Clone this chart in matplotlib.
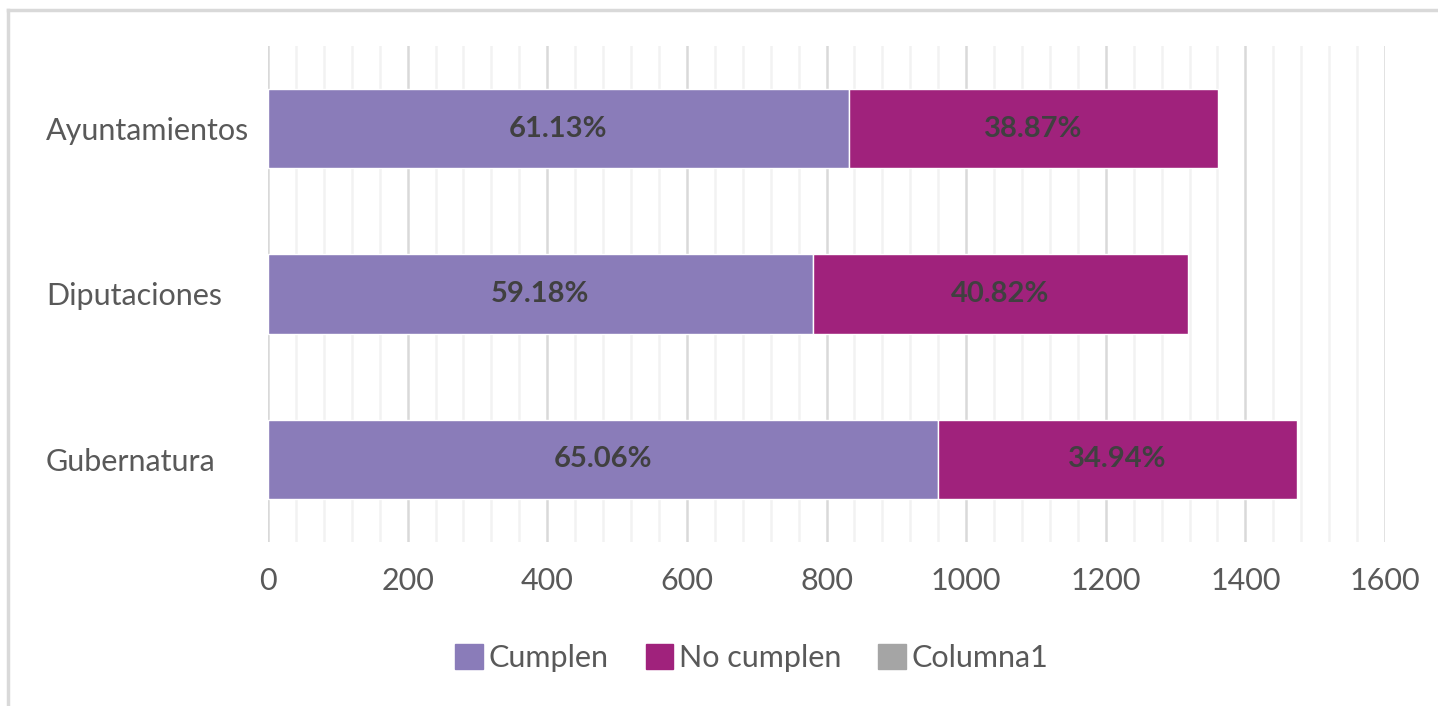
import matplotlib.pyplot as plt
from matplotlib.lines import Line2D
from matplotlib.patches import Patch
import numpy as np

categories = ["Gubernatura", "Diputaciones", "Ayuntamientos"]
cumplen = [959, 780, 832]
no_cumplen = [515, 538, 529]
pct_cumplen = ["65.06%", "59.18%", "61.13%"]
pct_no = ["34.94%", "40.82%", "38.87%"]

c_cumplen = "#8A7CB9"
c_no = "#A0227C"
c_col1 = "#A5A5A5"
txt = "#595959"

plt.rcParams['font.family'] = ['Lato', 'DejaVu Sans']

W, H = 1438, 706
fig = plt.figure(figsize=(W / 100, H / 100), dpi=100)
ax = fig.add_axes([268 / W, 1 - 542 / H, (1385 - 268) / W, (542 - 46) / H])

y = np.arange(len(categories))
ax.barh(y, cumplen, height=0.48, color=c_cumplen, edgecolor="white", linewidth=1, zorder=3)
ax.barh(y, no_cumplen, left=cumplen, height=0.48, color=c_no, edgecolor="white", linewidth=1, zorder=3)

for i in range(len(categories)):
    ax.text(cumplen[i] / 2, y[i], pct_cumplen[i], ha="center", va="center",
            fontsize=21, fontweight="bold", color="#404040", zorder=4)
    ax.text(cumplen[i] + no_cumplen[i] / 2, y[i], pct_no[i], ha="center", va="center",
            fontsize=21, fontweight="bold", color="#404040", zorder=4)

ax.set_xlim(0, 1600)
ax.set_ylim(-0.5, 2.5)
ax.set_xticks(np.arange(0, 1601, 200))
ax.set_xticks(np.arange(0, 1601, 40), minor=True)
ax.grid(axis="x", which="major", color="#D9D9D9", linewidth=1.8, zorder=0)
ax.grid(axis="x", which="minor", color="#F2F2F2", linewidth=1.8, zorder=0)
ax.set_yticks(y)
ax.set_yticklabels(categories)
for s in ax.spines.values():
    s.set_visible(False)
ax.tick_params(axis="both", which="both", length=0, labelsize=22, colors=txt)
ax.tick_params(axis="x", pad=18)
ax.tick_params(axis="y", pad=0)
for lbl in ax.get_yticklabels():
    lbl.set_horizontalalignment("left")
    lbl.set_x(-0.1987)

handles = [Patch(color=c_cumplen, label="Cumplen"),
           Patch(color=c_no, label="No cumplen"),
           Patch(color=c_col1, label="Columna1")]
fig.legend(handles=handles, loc="center", bbox_to_anchor=(752 / W, 1 - 658 / H), ncol=3,
           frameon=False, fontsize=22, labelcolor=txt, handlelength=0.9, handleheight=0.9,
           handletextpad=0.2, columnspacing=1.2)

# outer chart border (top and left)
fig.add_artist(Line2D([8 / W, 1], [1 - 10 / H, 1 - 10 / H], transform=fig.transFigure,
                      color="#D9D9D9", linewidth=2.5))
fig.add_artist(Line2D([8 / W, 8 / W], [0, 1 - 10 / H], transform=fig.transFigure,
                      color="#D9D9D9", linewidth=2.5))

fig.savefig("out.png", dpi=100, facecolor="white")
